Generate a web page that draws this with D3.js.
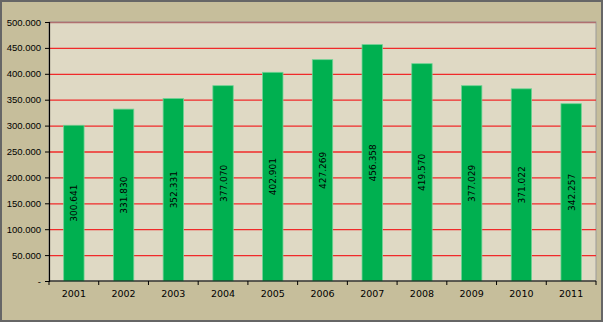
<!DOCTYPE html>
<html>
<head>
<meta charset="utf-8">
<script src="https://cdn.jsdelivr.net/npm/d3@7"></script>
<style>
  body { margin: 0; background: #ffffff; }
  svg { display: block; }
</style>
</head>
<body>
<div id="chart"></div>
<script>
// données
const annees = ["2001", "2002", "2003", "2004", "2005", "2006", "2007", "2008", "2009", "2010", "2011"];
const valeurs = [300641, 331830, 352331, 377070, 402901, 427269, 456358, 419570, 377029, 371022, 342257];
const ticksY = [0, 50000, 100000, 150000, 200000, 250000, 300000, 350000, 400000, 450000, 500000];

const W = 604, H = 323;
const margin = { top: 22, right: 8, bottom: 42, left: 49 };
const width = W - margin.left - margin.right,
      height = H - margin.top - margin.bottom;

const fmt = v => v === 0 ? "-" : d3.format(",")(v).replace(/,/g, ".");

const svg = d3.select("#chart").append("svg")
    .attr("width", W)
    .attr("height", H)
    .style("font-family", "'DejaVu Sans', Verdana, sans-serif");

// fond + bordure
svg.append("rect")
    .attr("x", 1).attr("y", 1)
    .attr("width", W - 3).attr("height", H - 3)
    .attr("fill", "#c6be9b")
    .attr("stroke", "#666666")
    .attr("stroke-width", 2);

const g = svg.append("g")
    .attr("transform", "translate(" + margin.left + "," + margin.top + ")");

const x = d3.scaleBand()
    .domain(annees)
    .range([0, width])
    .paddingInner(0.59)
    .paddingOuter(0.295);

const y = d3.scaleLinear()
    .domain([0, 500000])
    .range([height, 0]);

// zone du graphique
g.append("rect")
    .attr("width", width)
    .attr("height", height)
    .attr("fill", "#dfd9c4")
    .attr("stroke", "#9a9a9a")
    .attr("stroke-width", 1);

// grille
g.selectAll(".grille")
    .data(ticksY.filter(d => d > 0))
    .enter()
    .append("line")
    .attr("x1", 0)
    .attr("x2", width)
    .attr("y1", d => y(d) + 0.5)
    .attr("y2", d => y(d) + 0.5)
    .attr("stroke", d => d === 500000 ? "#b07070" : "#f02a2a")
    .attr("stroke-width", 1.3);

// barres
g.selectAll(".barre")
    .data(valeurs)
    .enter()
    .append("rect")
    .attr("x", (d, i) => x(annees[i]))
    .attr("y", d => y(d))
    .attr("width", x.bandwidth())
    .attr("height", d => height - y(d))
    .attr("fill", "#00b050")
    .attr("stroke", "#6fd394")
    .attr("stroke-width", 0.8);

// étiquettes
g.selectAll(".etiquette")
    .data(valeurs)
    .enter()
    .append("text")
    .attr("transform", (d, i) => "translate(" + (x(annees[i]) + x.bandwidth() / 2 + 3.5) + "," + ((y(d) + height) / 2) + ") rotate(-90)")
    .attr("text-anchor", "middle")
    .attr("font-size", 9)
    .attr("fill", "#000000")
    .text(d => fmt(d));

// axe Y
const axeY = d3.axisLeft(y).tickValues(ticksY).tickSize(4).tickFormat(fmt);
const gY = g.append("g").call(axeY);
gY.select(".domain").attr("stroke", "#000000").attr("stroke-width", 1.2);
gY.selectAll("text").attr("font-size", 9.5).attr("fill", "#000").attr("dx", "-1");

// axe X
const gX = g.append("g").attr("transform", "translate(0," + height + ")");
gX.append("line")
    .attr("x1", 0).attr("x2", width)
    .attr("stroke", "#000").attr("stroke-width", 1.2);
gX.selectAll(".tick")
    .data(d3.range(annees.length + 1))
    .enter()
    .append("line")
    .attr("x1", i => i * x.step())
    .attr("x2", i => i * x.step())
    .attr("y1", 0).attr("y2", 4)
    .attr("stroke", "#000");
gX.selectAll(".annee")
    .data(annees)
    .enter()
    .append("text")
    .attr("x", d => x(d) + x.bandwidth() / 2)
    .attr("y", 16)
    .attr("text-anchor", "middle")
    .attr("font-size", 9.5)
    .attr("fill", "#000")
    .text(d => d);
</script>
</body>
</html>
